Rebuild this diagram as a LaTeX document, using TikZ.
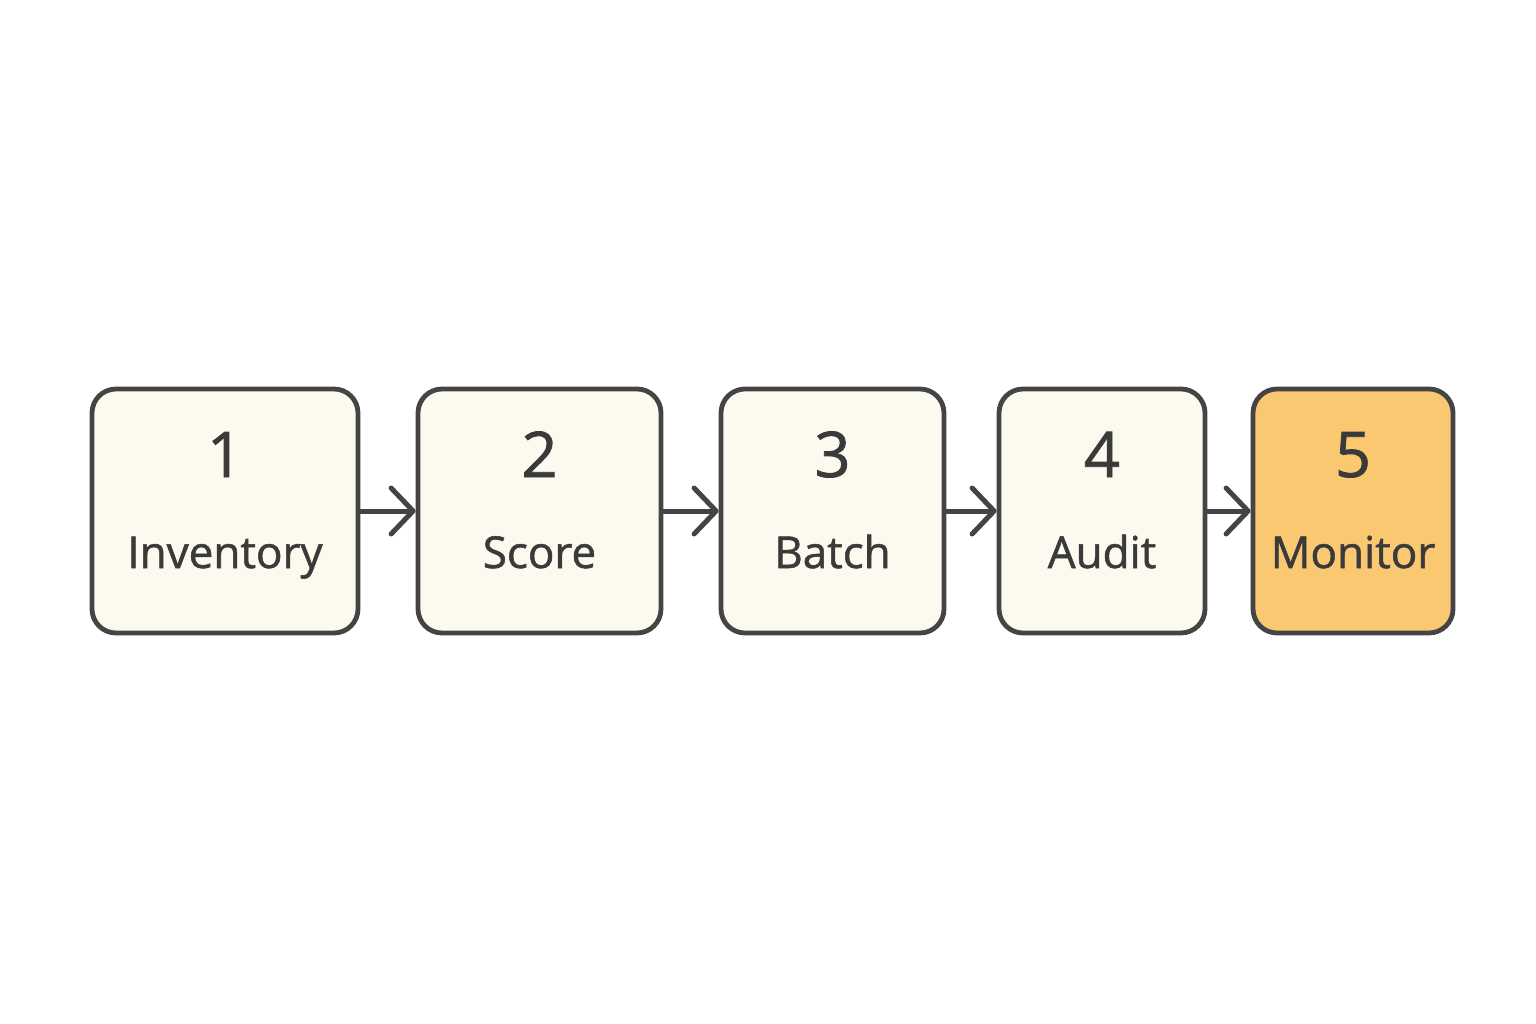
\documentclass[tikz,border=0pt]{standalone}
\usepackage{fontspec}
\setmainfont{Open Sans}[FakeBold=1.2,BoldFont={Open Sans}]
\usetikzlibrary{arrows.meta}
\definecolor{cream}{HTML}{FCF9EE}
\definecolor{orangefill}{HTML}{FBC872}
\definecolor{strokegray}{HTML}{444444}
\begin{document}
\begin{tikzpicture}[x=1pt,y=-1pt,
  stepbox/.style={draw=strokegray, line width=4.8pt, rounded corners=24pt, fill=cream, minimum height=244pt, inner sep=0pt},
  num/.style={font=\fontsize{63}{63}\selectfont\bfseries, text=strokegray!85!black, anchor=base, inner sep=0pt},
  lbl/.style={font=\fontsize{44}{44}\selectfont\bfseries, text=strokegray!85!black, anchor=base, inner sep=0pt},
  conn/.style={draw=strokegray, line width=5pt, -{Straight Barb[length=22pt,width=46pt,line cap=round,line join=round]}}
]
\useasboundingbox (0,0) rectangle (1536,1024);
\node[stepbox, minimum width=266pt] (b1) at (225,511) {};
\node[stepbox, minimum width=243pt] (b2) at (539.5,511) {};
\node[stepbox, minimum width=223pt] (b3) at (832.5,511) {};
\node[stepbox, minimum width=206pt] (b4) at (1102,511) {};
\node[stepbox, minimum width=200pt, fill=orangefill] (b5) at (1353,511) {};
\foreach \i/\x/\n/\t in {1/225/1/Inventory,2/539.5/2/Score,3/832.5/3/Batch,4/1102/4/Audit,5/1353/5/Monitor}{
  \node[num] (n\i) at (\x,477) {\n};
  \node[lbl] (l\i) at (\x,568) {\t};
}
\draw[conn] (b1.east) -- (b2.west);
\draw[conn] (b2.east) -- (b3.west);
\draw[conn] (b3.east) -- (b4.west);
\draw[conn] (b4.east) -- (b5.west);
\end{tikzpicture}
\end{document}
